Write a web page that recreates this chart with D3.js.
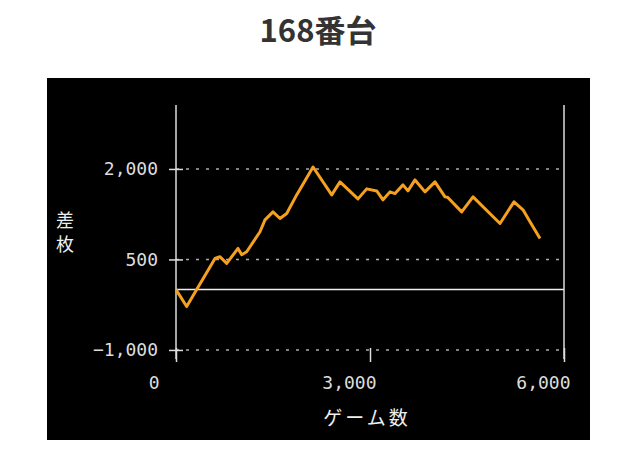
<!DOCTYPE html>
<meta charset="utf-8">
<style>
    body { margin: 0; background: #fff; }
    .num { font-family: 'DejaVu Sans Mono', monospace; font-size: 18px; fill: #ddd; }
    .jp { font-family: 'Noto Sans CJK JP', sans-serif; font-size: 19px; fill: #eee; }
</style>
<body>
<svg width="636" height="454"></svg>
<script src="https://d3js.org/d3.v7.min.js"></script>
<script>

    // data
    var games = [0, 165, 603, 680, 784, 959, 1016, 1093, 1299, 1376, 1500, 1608, 1712, 1866, 2119,
                 2408, 2536, 2814, 2949, 3104, 3201, 3309, 3387, 3510, 3587, 3696, 3850, 4005,
                 4160, 4200, 4418, 4593, 5010, 5227, 5366, 5474, 5629];
    var diff  = [0, -281, 517, 545, 435, 683, 579, 628, 959, 1157, 1289, 1179, 1261, 1570, 2033,
                 1570, 1785, 1504, 1670, 1636, 1488, 1620, 1592, 1736, 1636, 1818, 1620, 1785,
                 1537, 1530, 1289, 1537, 1096, 1455, 1322, 1124, 848];
    var xTicks = [0, 3000, 6000];
    var yTicks = [-1000, 500, 2000];
    var title = "168番台";

    var svg = d3.select("svg");

    var x = d3.scaleLinear().domain([0, 6000]).range([176, 564]);
    var y = d3.scaleLinear().domain([-1150, 3060]).range([359, 105]);

    svg.append("text")
        .attr("x", 318).attr("y", 42)
        .attr("text-anchor", "middle")
        .attr("font-family", "'Noto Sans CJK JP', sans-serif")
        .attr("font-weight", "bold")
        .attr("font-size", "31px")
        .attr("fill", "#333")
        .text(title);

    // black panel
    svg.append("rect")
        .attr("x", 47).attr("y", 78)
        .attr("width", 543).attr("height", 362)
        .attr("fill", "#000");

    // dotted grid
    svg.append("g").selectAll("line")
        .data(yTicks)
        .enter().append("line")
        .attr("x1", x(0)).attr("x2", x(6000))
        .attr("y1", function(d) { return y(d); })
        .attr("y2", function(d) { return y(d); })
        .attr("stroke", "#aaa")
        .attr("stroke-width", 1.5)
        .attr("stroke-dasharray", "3,7");

    // zero line
    svg.append("line")
        .attr("x1", x(0)).attr("x2", x(6000))
        .attr("y1", y(0)).attr("y2", y(0))
        .attr("stroke", "#eee").attr("stroke-width", 1.5);

    // left + right frame lines
    svg.append("g").selectAll("line")
        .data([0, 6000])
        .enter().append("line")
        .attr("x1", function(d) { return x(d); })
        .attr("x2", function(d) { return x(d); })
        .attr("y1", y.range()[1]).attr("y2", y.range()[0])
        .attr("stroke", "#ddd").attr("stroke-width", 1.5);

    var yAxis = svg.append("g")
        .attr("transform", "translate(" + x(0) + ",0)")
        .call(d3.axisLeft(y).tickValues(yTicks).tickSize(7).tickPadding(11).tickFormat(d3.format(",")));
    yAxis.select(".domain").remove();
    yAxis.selectAll(".tick line").attr("x1", -7).attr("x2", 7).attr("stroke", "#ddd").attr("stroke-width", 1.5);
    yAxis.selectAll(".tick text").attr("class", "num").attr("font-size", null).attr("font-family", null).attr("fill", null);

    var xAxis = svg.append("g")
        .attr("transform", "translate(0,355)")
        .call(d3.axisBottom(x).tickValues(xTicks).tickSize(7).tickFormat(d3.format(",")));
    xAxis.select(".domain").remove();
    xAxis.selectAll(".tick line").attr("y1", -7).attr("y2", 7).attr("stroke", "#ddd").attr("stroke-width", 1.5);
    xAxis.selectAll(".tick text")
        .attr("class", "num").attr("font-size", null).attr("font-family", null).attr("fill", null)
        .attr("text-anchor", "end")
        .attr("y", 34).attr("dy", 0)
        .attr("x", function(d) { return d === 0 ? -17 : 6; });

    // axis titles
    svg.append("text").attr("class", "jp").attr("text-anchor", "middle")
        .attr("font-size", "18px").style("font-size", "18px")
        .attr("x", 65).attr("y", 227).text("差");
    svg.append("text").attr("class", "jp").attr("text-anchor", "middle")
        .style("font-size", "18px")
        .attr("x", 65).attr("y", 251).text("枚");

    svg.append("text")
        .attr("class", "jp")
        .attr("x", 367).attr("y", 425)
        .attr("text-anchor", "middle")
        .attr("letter-spacing", "3px")
        .text("ゲーム数");

    var line = d3.line()
        .x(function(d, i) { return x(games[i]); })
        .y(function(d) { return y(d); });

    svg.append("path")
        .datum(diff)
        .attr("d", line)
        .attr("fill", "none")
        .attr("stroke", "#f5a01e")
        .attr("stroke-width", 3)
        .attr("stroke-linejoin", "round");

</script>
</body>
